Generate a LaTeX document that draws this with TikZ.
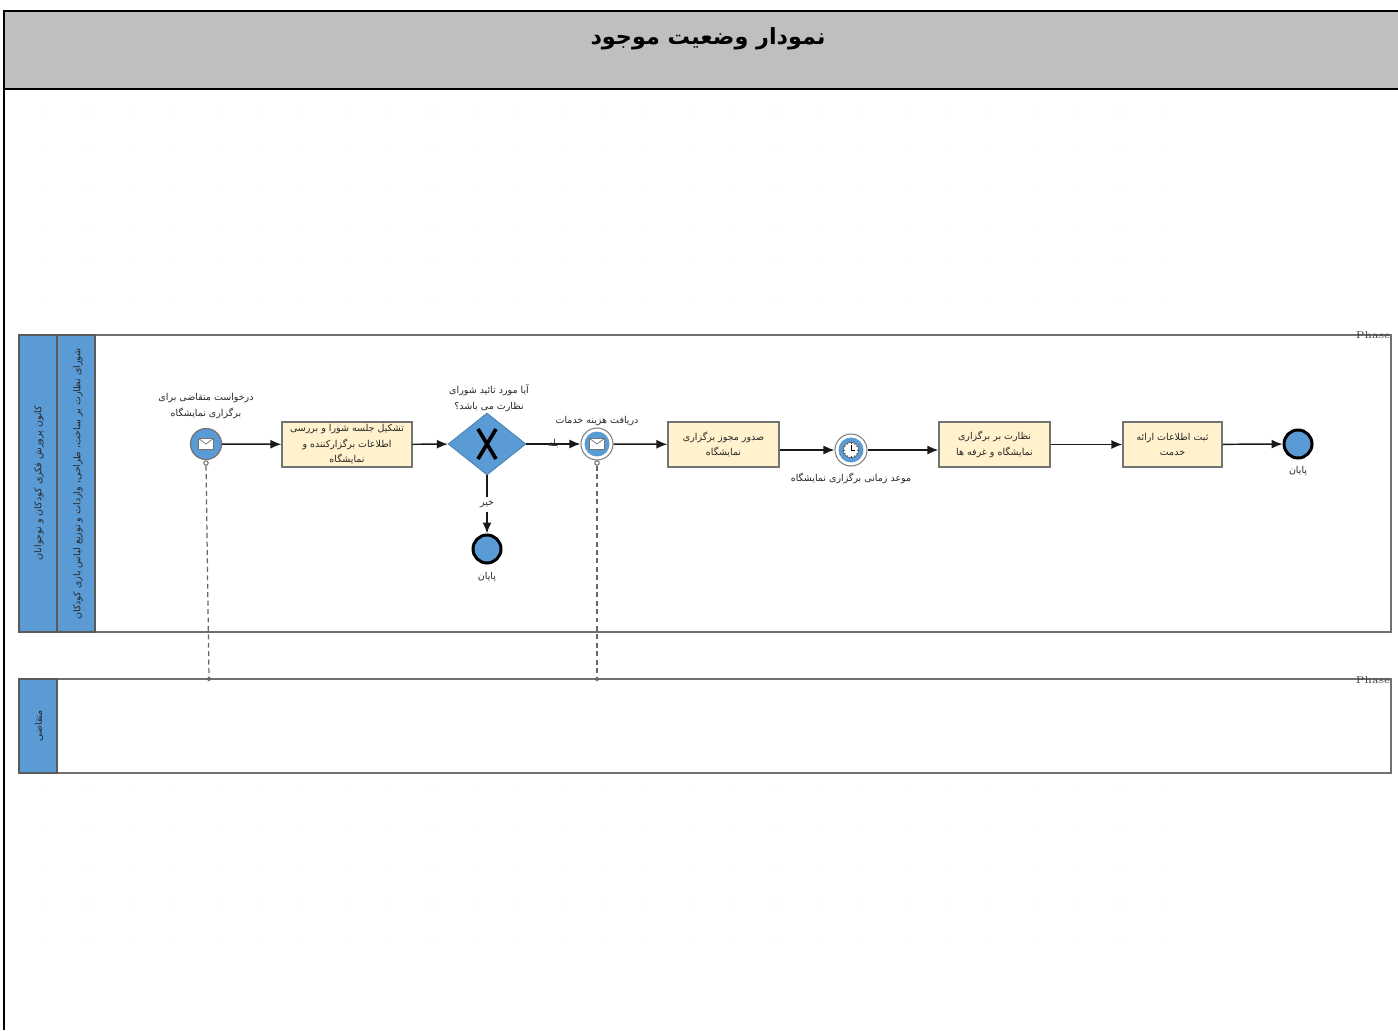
\documentclass[tikz,border=0pt]{standalone}
\usepackage{fontspec}
\usetikzlibrary{arrows.meta,shapes.geometric}
\TeXXeTstate=1
\newfontfamily\arabicfont[Script=Arabic]{DejaVu Sans}
\newcommand{\fa}[1]{\beginR #1\endR}
\definecolor{bandblue}{HTML}{5B9BD5}
\definecolor{taskfill}{HTML}{FFF2CC}
\definecolor{poolline}{HTML}{707070}
\tikzset{
    label text/.style={font=\arabicfont\fontsize{2.7}{4.4}\selectfont, align=center, inner sep=0pt, text=black!85},
    band text/.style={label text, rotate=90},
    phase text/.style={font=\fontsize{2.8}{4}\selectfont, inner sep=0pt, text=black!80},
    task/.style={rectangle, draw=black!55, line width=0.35pt, fill=taskfill, inner sep=0pt, label text},
    seqflow/.style={draw=black!90, line width=0.42pt, -{Latex[length=0.11cm,width=0.09cm]}},
    msgflow/.style={draw=black!60, line width=0.35pt, dash pattern=on 1.4pt off 1pt},
    pinhole/.style={circle, draw=black!65, fill=white, line width=0.25pt, minimum size=0.045cm, inner sep=0pt},
    bluedisc/.style={circle, fill=bandblue, inner sep=0pt},
    endevent/.style={bluedisc, draw=black, line width=0.85pt, minimum size=0.28cm},
    ring/.style={circle, draw=black!50, fill=white, line width=0.3pt, minimum size=0.32cm, inner sep=0pt},
    envelope/.style={rectangle, draw=black!55, fill=white, line width=0.2pt, minimum width=0.155cm, minimum height=0.115cm, inner sep=0pt,
        path picture={\draw[black!55, line width=0.2pt] (path picture bounding box.north west) -- (path picture bounding box.center) -- (path picture bounding box.north east);}},
}
\begin{document}
\begin{tikzpicture}
    \useasboundingbox (0, 0) rectangle (13.98, 10.30);

    % Faint background dots
    \foreach \y in {9.18, 8.80, 8.42, 8.05, 7.68, 7.30, 2.40, 2.02, 1.64, 1.26, 0.88} {
        \foreach \x in {0.45, 0.88, ..., 11.9} {
            \fill[black!3] (\x, \y) circle (0.012);
        }
    }

    % Title bar and page frame
    \fill[black!25] (0.04, 9.41) rectangle (13.98, 10.19);
    \draw[line width=0.6pt] (0.04, 0) -- (0.04, 10.19) -- (13.98, 10.19);
    \draw[line width=0.6pt] (0.04, 9.41) -- (13.98, 9.41);
    \node[font=\arabicfont\bfseries\fontsize{6.35}{9}\selectfont, inner sep=0pt] (title) at (7.08, 9.91) {\fa{نمودار وضعیت موجود}};

    % Upper pool
    \draw[poolline, line width=0.4pt] (0.19, 3.98) rectangle (13.91, 6.95);
    \draw[poolline!80!black, fill=bandblue, line width=0.35pt] (0.19, 3.98) rectangle (0.57, 6.95);
    \draw[poolline!80!black, fill=bandblue, line width=0.35pt] (0.57, 3.98) rectangle (0.95, 6.95);
    \node[band text] (poolname) at (0.39, 5.47) {\fa{کانون پرورش فکری کودکان و نوجوانان}};
    \node[band text] (lanename) at (0.78, 5.46) {\fa{شورای نظارت بر ساخت، طراحی، واردات و توزیع لباس بازی کودکان}};
    \node[phase text] (phasetop) at (13.73, 6.95) {Phase};

    % Lower pool
    \draw[poolline, line width=0.4pt] (0.19, 2.57) rectangle (13.91, 3.51);
    \draw[poolline!80!black, fill=bandblue, line width=0.35pt] (0.19, 2.57) rectangle (0.57, 3.51);
    \node[band text] (applicant) at (0.39, 3.04) {\fa{متقاضی}};
    \node[phase text] (phasebottom) at (13.73, 3.50) {Phase};

    % Start message event
    \node[bluedisc, draw=black!55, line width=0.35pt, minimum size=0.31cm] (request) at (2.06, 5.86) {};
    \node[envelope] (requestmail) at (2.06, 5.86) {};
    \node[pinhole] (requestpin) at (2.06, 5.67) {};
    \node[label text] (requestlabel) at (2.06, 6.24) {\fa{درخواست متقاضی برای}\\\fa{برگزاری نمایشگاه}};

    % Tasks
    \node[task, minimum width=1.30cm, minimum height=0.45cm] (meeting) at (3.47, 5.855) {\fa{تشکیل جلسه شورا و بررسی}\\\fa{اطلاعات برگزارکننده و}\\\fa{نمایشگاه}};
    \node[task, minimum width=1.11cm, minimum height=0.45cm] (permit) at (7.235, 5.855) {\fa{صدور مجوز برگزاری}\\\fa{نمایشگاه}};
    \node[task, minimum width=1.11cm, minimum height=0.45cm] (supervise) at (9.945, 5.855) {\fa{نظارت بر برگزاری}\\\fa{نمایشگاه و غرفه ها}};
    \node[task, minimum width=0.99cm, minimum height=0.45cm] (record) at (11.725, 5.855) {\fa{ثبت اطلاعات ارائه}\\\fa{خدمت}};

    % Gateway
    \node[diamond, aspect=1.26, fill=bandblue, draw=bandblue!80!black, line width=0.2pt, minimum width=0.78cm, minimum height=0.62cm, inner sep=0pt] (approve) at (4.87, 5.86) {};
    \draw[line width=1.05pt] (4.78, 5.71) -- (4.96, 6.01);
    \draw[line width=1.05pt] (4.96, 5.71) -- (4.78, 6.01);
    \node[label text] (approvelabel) at (4.89, 6.32) {\fa{آیا مورد تائید شورای}\\\fa{نظارت می باشد؟}};

    % Fee message event
    \node[ring] (fee) at (5.97, 5.86) {};
    \node[bluedisc, minimum size=0.25cm] (feedisc) at (5.97, 5.86) {};
    \node[envelope] (feemail) at (5.97, 5.86) {};
    \node[pinhole] (feepin) at (5.97, 5.67) {};
    \node[label text] (feelabel) at (5.97, 6.09) {\fa{دریافت هزینه خدمات}};

    % Timer event
    \node[ring] (timer) at (8.51, 5.80) {};
    \node[bluedisc, minimum size=0.25cm] (timerdisc) at (8.51, 5.80) {};
    \node[circle, fill=white, draw=black!60, line width=0.2pt, minimum size=0.155cm, inner sep=0pt] (clock) at (8.51, 5.80) {};
    \foreach \a in {0, 30, ..., 330} {
        \draw[black!70, line width=0.15pt] (clock.\a) -- ++(\a+180:0.02);
    }
    \draw[black, line width=0.25pt] (clock.center) -- ++(0, 0.055);
    \draw[black, line width=0.25pt] (clock.center) -- ++(0.04, 0);
    \node[label text] (timerlabel) at (8.51, 5.52) {\fa{موعد زمانی برگزاری نمایشگاه}};

    % End events
    \node[endevent] (finish) at (12.98, 5.86) {};
    \node[label text] (finishlabel) at (12.98, 5.59) {\fa{پایان}};
    \node[endevent] (reject) at (4.87, 4.81) {};
    \node[label text] (rejectlabel) at (4.87, 4.53) {\fa{پایان}};

    % Sequence flows
    \draw[seqflow] (request) -- (meeting);
    \draw[seqflow] (meeting) -- (approve);
    \draw[seqflow] (approve) -- node[label text] (yes) {\fa{بله}} (fee);
    \draw[seqflow] (fee) -- (permit);
    \draw[seqflow] (timer -| permit.east) -- (timer);
    \draw[seqflow] (timer) -- (timer -| supervise.west);
    \draw[seqflow] (supervise) -- (record);
    \draw[seqflow] (record) -- (finish);
    \draw[seqflow] (approve) -- node[label text, fill=white, inner ysep=1pt] (no) {\fa{خیر}} (reject);

    % Message flows to the lower pool
    \coordinate (requesthit) at (2.09, 3.51);
    \coordinate (feehit) at (5.97, 3.51);
    \draw[msgflow] (requestpin) -- (requesthit);
    \draw[msgflow] (feepin) -- (feehit);
    \fill[black!60] (requesthit) circle (0.02);
    \fill[black!60] (feehit) circle (0.02);
\end{tikzpicture}
\end{document}
